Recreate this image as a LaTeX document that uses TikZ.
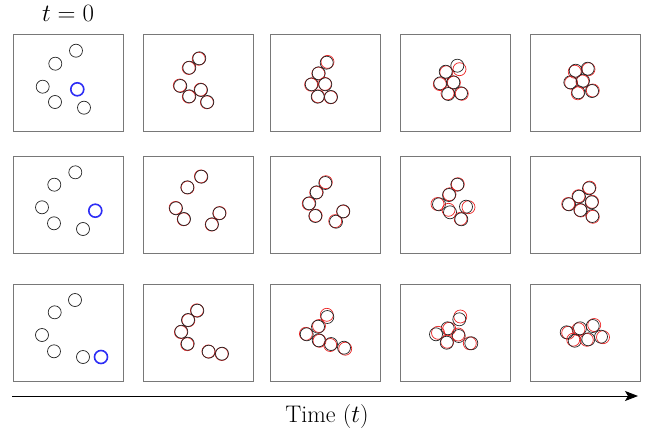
\documentclass[tikz,border=0pt]{standalone}
\usepackage{fontspec}
\usepackage{xcolor}
\usepackage{tikz}
\usetikzlibrary{arrows.meta}
\definecolor{framegray}{RGB}{120,120,120}
\definecolor{seedblue}{RGB}{45,45,245}
\definecolor{ghostred}{RGB}{235,35,35}
\tikzset{
  panelbox/.style={draw=framegray, line width=0.9pt},
  bead/.style={draw=black!85, line width=0.7pt},
  seed/.style={draw=seedblue, line width=1.6pt},
  ghost/.style={draw=ghostred, line width=0.7pt},
  timeline/.style={draw=black, line width=0.9pt, -{Stealth[length=13pt,width=10pt,inset=3pt]}},
  bigtext/.style={font=\fontsize{24}{28}\selectfont, inner sep=0pt},
}

\begin{document}
\begin{tikzpicture}[x=1pt,y=-1pt]
            \useasboundingbox (0,0) rectangle (652,436);
            % panels
            \foreach \px in {13,143,270,400,530}
              \foreach \py in {34,156,284}
                \draw[panelbox] (\px,\py) rectangle ++(110,97);
            % row 1
            \foreach \cx/\cy in {76/50.7, 55.3/63.7, 42.7/86.7, 55/102, 84/107.7}
              \draw[bead] (\cx,\cy) circle[radius=6.5];
            \draw[seed] (77.3,89.3) circle[radius=6.5];
            \foreach \cx/\cy/\dx/\dy in {199.3/58.3/-0.6/0.5, 189.3/67.7/-0.6/0.3, 180.3/86/-0.5/-0.5, 189.3/96.3/-0.5/0.4, 201/90/-0.4/-0.4, 207.3/102/-0.4/0.3,
                                          326.7/62.7/0.8/-0.8, 318.7/73.3/-0.4/0.3, 311.7/84.3/-0.6/0.4, 325.3/84.3/-0.4/-0.4, 317.7/96.7/0.4/-0.4, 331/97/-0.3/0.3,
                                          457.3/65.7/2.2/3.5, 445.7/71.7/0.6/0.6, 440.3/83.3/-0.5/0.8, 453.3/82.3/0.6/0.4, 448.3/94/-0.8/-0.6, 461/93.3/0.8/0.5,
                                          587.7/68.7/0.8/0.5, 575.7/70.7/-1/1, 570.3/82.3/0.8/0.5, 583/80.7/-0.6/0.8, 578.3/92.3/-0.5/1, 592/91/0.8/-0.5} {
              \draw[ghost] (\cx+\dx,\cy+\dy) circle[radius=6.5];
              \draw[bead] (\cx,\cy) circle[radius=6.5];
            }
            % row 2
            \foreach \cx/\cy in {75.3/172.3, 54.3/184.7, 42/207.3, 54/223.3, 83/229}
              \draw[bead] (\cx,\cy) circle[radius=6.5];
            \draw[seed] (95.3,210.7) circle[radius=6.5];
            \foreach \cx/\cy/\dx/\dy in {201.3/176.7/-0.4/-0.3, 187.3/187.3/0.3/0.3, 176/208.3/-0.4/-0.4, 184/219/-0.3/0.3, 219.3/213.3/0.3/-0.3, 212/224.3/-0.3/0.3,
                                          325.3/183/0.5/-0.8, 316.7/192.3/-0.5/0.4, 309.3/203.3/-0.6/0.4, 315.3/216/0.4/-0.4, 343.3/211.3/-0.3/0.3, 336/221.7/-0.8/-0.6,
                                          457.3/184.7/0.5/-0.5, 449/195/0.5/-0.7, 439/204.3/-1.5/-0.3, 450/212.3/-1.5/-2.5, 466/206.7/2.5/0.5, 461.3/219.3/-0.7/-0.5,
                                          589/188.3/0.5/-0.7, 579/196.7/-0.5/-0.5, 569/204.3/-0.8/-0.3, 591.7/202.3/0.4/-0.5, 580.3/210/0.5/0.5, 592.3/216/0.5/0.8} {
              \draw[ghost] (\cx+\dx,\cy+\dy) circle[radius=6.5];
              \draw[bead] (\cx,\cy) circle[radius=6.5];
            }
            % row 3
            \foreach \cx/\cy in {75/300, 54.7/312.3, 42/335, 54/351.3, 83/357}
              \draw[bead] (\cx,\cy) circle[radius=6.5];
            \draw[seed] (101,357) circle[radius=6.5];
            \foreach \cx/\cy/\dx/\dy in {197.3/310.7/-0.4/-0.4, 188/320/0.4/0.3, 181.3/331.7/-0.4/0.4, 187.7/343.7/-0.5/0.5, 208.7/351.7/-0.3/-0.3, 222/353.7/-0.3/0.3,
                                          327.3/317/-0.5/-2.2, 318/326.7/1/-0.7, 306.7/334.3/-0.8/-0.5, 318.7/340.3/0.8/0.5, 331/344/-0.8/1, 344/347.7/1.2/1,
                                          459.3/319.3/1/-2.8, 447.7/328.3/1.5/0.5, 436/334.3/2/-1.5, 458.7/336/-0.5/-1.5, 446.7/342.7/0.5/-1, 471.3/343.3/-1.5/0,
                                          592.7/326/1.5/-1, 580/328.3/-1.5/1, 566.7/332.3/1.5/0.5, 574.7/340.7/-1.5/-1, 588.3/339.3/-1.5/0.5, 601/336.7/2/0.5} {
              \draw[ghost] (\cx+\dx,\cy+\dy) circle[radius=6.5];
              \draw[bead] (\cx,\cy) circle[radius=6.5];
            }
            % labels and time axis
            \node[bigtext] (tzero) at (68,13) {$t=0$};
            \coordinate (tstart) at (12,396);
            \coordinate (tend) at (638,396);
            \draw[timeline] (tstart) -- (tend);
            \node[bigtext] (timelabel) at (327,417) {Time ($t$)};
        \end{tikzpicture}
\end{document}
